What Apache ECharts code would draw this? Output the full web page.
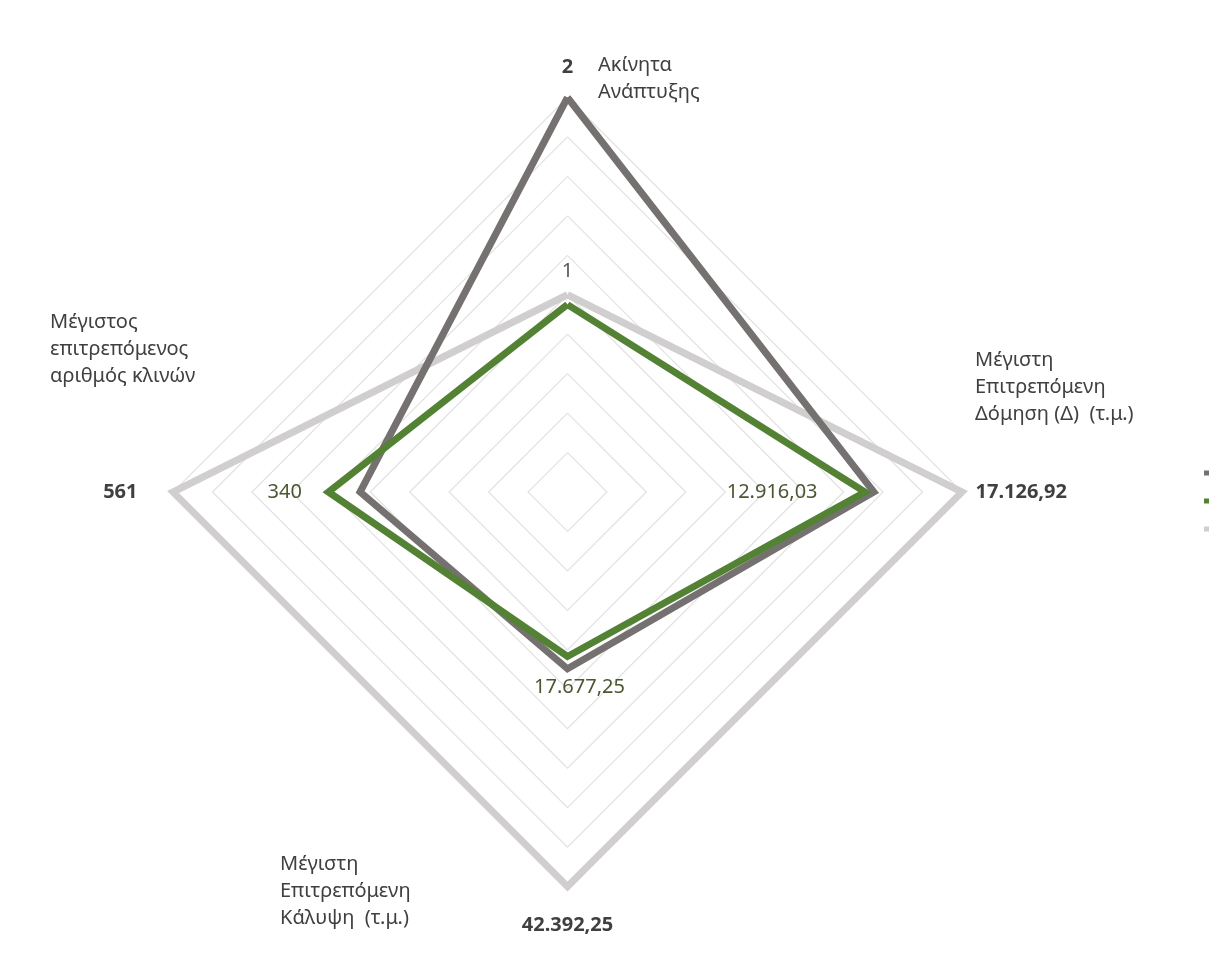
<!DOCTYPE html>
<html>
<head>
<meta charset="utf-8">
<script src="https://cdn.jsdelivr.net/npm/echarts@6/dist/echarts.min.js"></script>
<style>
html,body{margin:0;padding:0;background:#ffffff;}
#chart{width:1209px;height:966px;}
</style>
</head>
<body>
<div id="chart"></div>
<script>
// Axis order as in the reference (clockwise from top): top, right, bottom, left
const categories = [
  'Ακίνητα\nΑνάπτυξης',
  'Μέγιστη\nΕπιτρεπόμενη\nΔόμηση (Δ)  (τ.μ.)',
  'Μέγιστη\nΕπιτρεπόμενη\nΚάλυψη  (τ.μ.)',
  'Μέγιστος\nεπιτρεπόμενος\nαριθμός κλινών'
];
const axisMax = [2, 17126.92, 42392.25, 561];
const decimals = [0, 2, 2, 0];
const seriesNames = ['Σενάριο 1', 'Σενάριο 2', 'Σενάριο 3'];
const darkVals  = [2, 13300, 19000, 295];
const greenVals = [0.95, 12916.03, 17677.25, 340];
const lightVals = [1, 17126.92, 42392.25, 561];

// ECharts places indicators counter-clockwise from the top -> top, left, bottom, right
const ecOrder = [0, 3, 2, 1];
const reorder = arr => ecOrder.map(i => arr[i]);

function fmtGR(v, d) {
  const s = Math.abs(v).toFixed(d);
  let [ip, dp] = s.split('.');
  ip = ip.replace(/\B(?=(\d{3})+(?!\d))/g, '.');
  return (v < 0 ? '-' : '') + ip + (dp ? ',' + dp : '');
}

const C = { dark: '#767171', green: '#548235', light: '#d0cece' };
const FONT = '"Noto Sans", "Open Sans", sans-serif';
const FS = 20;

function labelSeries(vals, dims, position, distance, style) {
  return {
    type: 'radar',
    name: '_lbl',
    z: 5,
    symbol: 'circle',
    symbolSize: 1,
    silent: true,
    lineStyle: { width: 0, opacity: 0 },
    itemStyle: { color: 'rgba(0,0,0,0)' },
    data: [{ value: reorder(vals) }],
    label: Object.assign({
      show: true,
      position: position,
      distance: distance,
      fontFamily: FONT,
      fontSize: FS,
      formatter: p => {
        const orig = ecOrder[p.dimensionIndex];
        if (dims.indexOf(orig) < 0) return '';
        const v = Array.isArray(p.value) ? p.value[p.dimensionIndex] : p.value;
        return fmtGR(v, decimals[orig]);
      }
    }, style)
  };
}

function lineSeries(name, vals, color, z) {
  return {
    type: 'radar',
    name: name,
    z: z,
    symbol: 'none',
    lineStyle: { color: color, width: 7, join: 'miter' },
    itemStyle: { color: color },
    data: [{ value: reorder(vals), name: name }]
  };
}

const chart = echarts.init(document.getElementById('chart'), null, { renderer: 'canvas' });

const nameStyle = { fill: '#404040', fontFamily: FONT, fontSize: FS, lineHeight: 27 };

chart.setOption({
  backgroundColor: '#ffffff',
  animation: false,
  legend: {
    data: seriesNames,
    orient: 'vertical',
    left: 1199,
    top: 460,
    itemWidth: 22,
    itemHeight: 5,
    itemGap: 12,
    icon: 'rect',
    textStyle: { fontFamily: FONT, fontSize: 14, lineHeight: 16, color: '#404040' }
  },
  radar: {
    center: [567.5, 492],
    radius: 394.5,
    splitNumber: 10,
    shape: 'polygon',
    startAngle: 90,
    indicator: reorder(categories).map((n, i) => ({ name: n, max: reorder(axisMax)[i], min: 0 })),
    axisName: { show: false },
    axisLine: { show: false },
    axisTick: { show: false },
    splitArea: { show: false },
    splitLine: { lineStyle: { color: '#e2e2e2', width: 1.2 } }
  },
  graphic: [
    { type: 'text', left: 598, top: 52, style: Object.assign({ text: categories[0] }, nameStyle) },
    { type: 'text', left: 975, top: 347, style: Object.assign({ text: categories[1] }, nameStyle) },
    { type: 'text', left: 280, top: 851, style: Object.assign({ text: categories[2] }, nameStyle) },
    { type: 'text', left: 50, top: 309, style: Object.assign({ text: categories[3] }, nameStyle) }
  ],
  series: [
    lineSeries(seriesNames[2], lightVals, C.light, 2),
    lineSeries(seriesNames[0], darkVals, C.dark, 3),
    lineSeries(seriesNames[1], greenVals, C.green, 4),
    labelSeries(darkVals, [0], 'top', 20, { color: '#404040', fontWeight: 'bold' }),
    labelSeries(lightVals, [0], 'top', 13, { color: '#595959' }),
    labelSeries(lightVals, [1], 'right', 13, { color: '#404040', fontWeight: 'bold' }),
    labelSeries(lightVals, [2], 'bottom', 28, { color: '#404040', fontWeight: 'bold' }),
    labelSeries(lightVals, [3], 'left', 35, { color: '#404040', fontWeight: 'bold' }),
    labelSeries(greenVals, [3], 'left', 26, { color: '#4a5731' }),
    labelSeries(greenVals, [1], 'left', 47, { color: '#4a5731' }),
    labelSeries(greenVals, [2], 'bottom', 20, { color: '#4a5731', offset: [12, 0] })
  ]
});
</script>
</body>
</html>
